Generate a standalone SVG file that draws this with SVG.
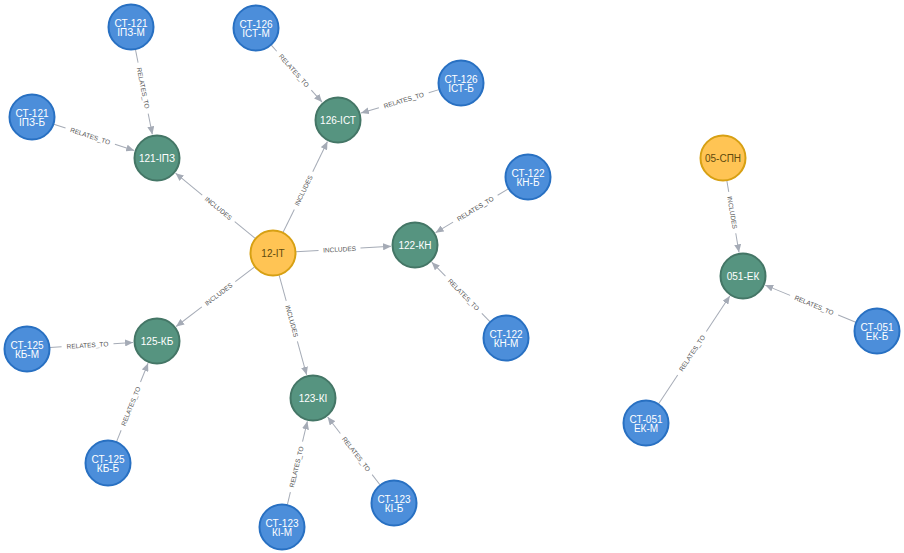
<svg xmlns="http://www.w3.org/2000/svg" width="904" height="553" viewBox="0 0 904 553">
<style>
  .bg{fill:#ffffff}
  .edge line{stroke:#a5abb6;stroke-width:1;fill:none}
  .edge line.tip{marker-end:url(#arrow)}
  .elabel{font-family:"Liberation Sans",Arial,sans-serif;font-size:6.5px;fill:#555555;text-anchor:middle}
  .node circle{stroke-width:2}
  .blue circle{fill:#4c8eda;stroke:#2870c2}
  .green circle{fill:#569480;stroke:#447666}
  .yellow circle{fill:#ffc454;stroke:#d7a013}
  .node text{font-family:"Liberation Sans",Arial,sans-serif;font-size:10px;text-anchor:middle;fill:#ffffff}
  .yellow text{fill:#604a0e}
</style>
<defs>
  <marker id="arrow" viewBox="0 0 8 7" refX="8" refY="3.5" markerWidth="8" markerHeight="7" markerUnits="userSpaceOnUse" orient="auto">
    <path d="M0,0 L8,3.5 L0,7 Z" fill="#a5abb6"/>
  </marker>
</defs>
<rect class="bg" x="0" y="0" width="904" height="553"/>
<g id="connectors">
  <g id="e1" class="edge" transform="translate(131,27) rotate(78.77)">
    <line x1="23" y1="0" x2="36.28" y2="0"/><line class="tip" x1="88.28" y1="0" x2="109.55" y2="0"/>
    <text class="elabel" x="62.28" y="2.3">RELATES_TO</text>
  </g>
  <g id="e2" class="edge" transform="translate(32,117) rotate(18.16)">
    <line x1="23" y1="0" x2="35.28" y2="0"/><line class="tip" x1="87.28" y1="0" x2="107.55" y2="0"/>
    <text class="elabel" x="61.28" y="2.3">RELATES_TO</text>
  </g>
  <g id="e3" class="edge" transform="translate(256,28) rotate(48.29)">
    <line x1="23" y1="0" x2="31.12" y2="0"/><line class="tip" x1="83.12" y1="0" x2="99.24" y2="0"/>
    <text class="elabel" x="57.12" y="2.3">RELATES_TO</text>
  </g>
  <g id="e4" class="edge" transform="translate(461,83) rotate(163.26)">
    <line x1="23" y1="0" x2="33.72" y2="0"/><line class="tip" x1="85.72" y1="0" x2="104.44" y2="0"/>
    <text class="elabel" x="59.72" y="2.3" transform="rotate(180 59.72 0)">RELATES_TO</text>
  </g>
  <g id="e5" class="edge" transform="translate(273,253) rotate(-140.68)">
    <line x1="23" y1="0" x2="49.47" y2="0"/><line class="tip" x1="91.47" y1="0" x2="125.94" y2="0"/>
    <text class="elabel" x="70.47" y="2.3" transform="rotate(180 70.47 0)">INCLUDES</text>
  </g>
  <g id="e6" class="edge" transform="translate(273,253) rotate(-63.95)">
    <line x1="23" y1="0" x2="48.52" y2="0"/><line class="tip" x1="90.52" y1="0" x2="124.03" y2="0"/>
    <text class="elabel" x="69.52" y="2.3">INCLUDES</text>
  </g>
  <g id="e7" class="edge" transform="translate(273,253) rotate(-3.22)">
    <line x1="23" y1="0" x2="45.62" y2="0"/><line class="tip" x1="87.62" y1="0" x2="118.23" y2="0"/>
    <text class="elabel" x="66.62" y="2.3">INCLUDES</text>
  </g>
  <g id="e8" class="edge" transform="translate(273,253) rotate(142.82)">
    <line x1="23" y1="0" x2="47.3" y2="0"/><line class="tip" x1="89.3" y1="0" x2="121.6" y2="0"/>
    <text class="elabel" x="68.3" y="2.3" transform="rotate(180 68.3 0)">INCLUDES</text>
  </g>
  <g id="e9" class="edge" transform="translate(273,253) rotate(74.58)">
    <line x1="23" y1="0" x2="49.71" y2="0"/><line class="tip" x1="91.71" y1="0" x2="126.42" y2="0"/>
    <text class="elabel" x="70.71" y="2.3">INCLUDES</text>
  </g>
  <g id="e10" class="edge" transform="translate(528,177) rotate(148.96)">
    <line x1="23" y1="0" x2="35.44" y2="0"/><line class="tip" x1="87.44" y1="0" x2="107.88" y2="0"/>
    <text class="elabel" x="61.44" y="2.3" transform="rotate(180 61.44 0)">RELATES_TO</text>
  </g>
  <g id="e11" class="edge" transform="translate(506,338) rotate(-134.38)">
    <line x1="23" y1="0" x2="34.56" y2="0"/><line class="tip" x1="86.56" y1="0" x2="106.12" y2="0"/>
    <text class="elabel" x="60.56" y="2.3" transform="rotate(180 60.56 0)">RELATES_TO</text>
  </g>
  <g id="e12" class="edge" transform="translate(27,349) rotate(-3.52)">
    <line x1="23" y1="0" x2="34.63" y2="0"/><line class="tip" x1="86.63" y1="0" x2="106.25" y2="0"/>
    <text class="elabel" x="60.63" y="2.3">RELATES_TO</text>
  </g>
  <g id="e13" class="edge" transform="translate(108,463) rotate(-68.12)">
    <line x1="23" y1="0" x2="35.24" y2="0"/><line class="tip" x1="87.24" y1="0" x2="107.47" y2="0"/>
    <text class="elabel" x="61.24" y="2.3">RELATES_TO</text>
  </g>
  <g id="e14" class="edge" transform="translate(282,527) rotate(-76.49)">
    <line x1="23" y1="0" x2="35.84" y2="0"/><line class="tip" x1="87.84" y1="0" x2="108.67" y2="0"/>
    <text class="elabel" x="61.84" y="2.3">RELATES_TO</text>
  </g>
  <g id="e15" class="edge" transform="translate(394,503) rotate(-127.65)">
    <line x1="23" y1="0" x2="35.81" y2="0"/><line class="tip" x1="87.81" y1="0" x2="108.61" y2="0"/>
    <text class="elabel" x="61.81" y="2.3" transform="rotate(180 61.81 0)">RELATES_TO</text>
  </g>
  <g id="e16" class="edge" transform="translate(723,158) rotate(80.38)">
    <line x1="23" y1="0" x2="34.34" y2="0"/><line class="tip" x1="76.34" y1="0" x2="95.68" y2="0"/>
    <text class="elabel" x="55.34" y="2.3">INCLUDES</text>
  </g>
  <g id="e17" class="edge" transform="translate(877,331) rotate(-157.69)">
    <line x1="23" y1="0" x2="41.93" y2="0"/><line class="tip" x1="93.93" y1="0" x2="120.85" y2="0"/>
    <text class="elabel" x="67.93" y="2.3" transform="rotate(180 67.93 0)">RELATES_TO</text>
  </g>
  <g id="e18" class="edge" transform="translate(646,423) rotate(-56.58)">
    <line x1="23" y1="0" x2="57.56" y2="0"/><line class="tip" x1="109.56" y1="0" x2="152.12" y2="0"/>
    <text class="elabel" x="83.56" y="2.3">RELATES_TO</text>
  </g>
</g>
<g id="nodes">
  <g id="n1" class="node blue" transform="translate(131,27)"><circle r="22.5"/><text y="0">СТ-121</text><text y="9.3">ІПЗ-М</text></g>
  <g id="n2" class="node blue" transform="translate(32,117)"><circle r="22.5"/><text y="0">СТ-121</text><text y="9.3">ІПЗ-Б</text></g>
  <g id="n3" class="node green" transform="translate(157,158)"><circle r="22.5"/><text y="3.5">121-ІПЗ</text></g>
  <g id="n4" class="node blue" transform="translate(256,28)"><circle r="22.5"/><text y="0">СТ-126</text><text y="9.3">ІСТ-М</text></g>
  <g id="n5" class="node blue" transform="translate(461,83)"><circle r="22.5"/><text y="0">СТ-126</text><text y="9.3">ІСТ-Б</text></g>
  <g id="n6" class="node green" transform="translate(338,120)"><circle r="22.5"/><text y="3.5">126-ІСТ</text></g>
  <g id="n7" class="node yellow" transform="translate(273,253)"><circle r="22.5"/><text y="3.5">12-ІТ</text></g>
  <g id="n8" class="node green" transform="translate(415,245)"><circle r="22.5"/><text y="3.5">122-КН</text></g>
  <g id="n9" class="node blue" transform="translate(528,177)"><circle r="22.5"/><text y="0">СТ-122</text><text y="9.3">КН-Б</text></g>
  <g id="n10" class="node blue" transform="translate(506,338)"><circle r="22.5"/><text y="0">СТ-122</text><text y="9.3">КН-М</text></g>
  <g id="n11" class="node blue" transform="translate(27,349)"><circle r="22.5"/><text y="0">СТ-125</text><text y="9.3">КБ-М</text></g>
  <g id="n12" class="node green" transform="translate(157,341)"><circle r="22.5"/><text y="3.5">125-КБ</text></g>
  <g id="n13" class="node blue" transform="translate(108,463)"><circle r="22.5"/><text y="0">СТ-125</text><text y="9.3">КБ-Б</text></g>
  <g id="n14" class="node green" transform="translate(313,398)"><circle r="22.5"/><text y="3.5">123-КІ</text></g>
  <g id="n15" class="node blue" transform="translate(282,527)"><circle r="22.5"/><text y="0">СТ-123</text><text y="9.3">КІ-М</text></g>
  <g id="n16" class="node blue" transform="translate(394,503)"><circle r="22.5"/><text y="0">СТ-123</text><text y="9.3">КІ-Б</text></g>
  <g id="n17" class="node yellow" transform="translate(723,158)"><circle r="22.5"/><text y="3.5">05-СПН</text></g>
  <g id="n18" class="node green" transform="translate(743,276)"><circle r="22.5"/><text y="3.5">051-ЕК</text></g>
  <g id="n19" class="node blue" transform="translate(877,331)"><circle r="22.5"/><text y="0">СТ-051</text><text y="9.3">ЕК-Б</text></g>
  <g id="n20" class="node blue" transform="translate(646,423)"><circle r="22.5"/><text y="0">СТ-051</text><text y="9.3">ЕК-М</text></g>
</g>
</svg>
